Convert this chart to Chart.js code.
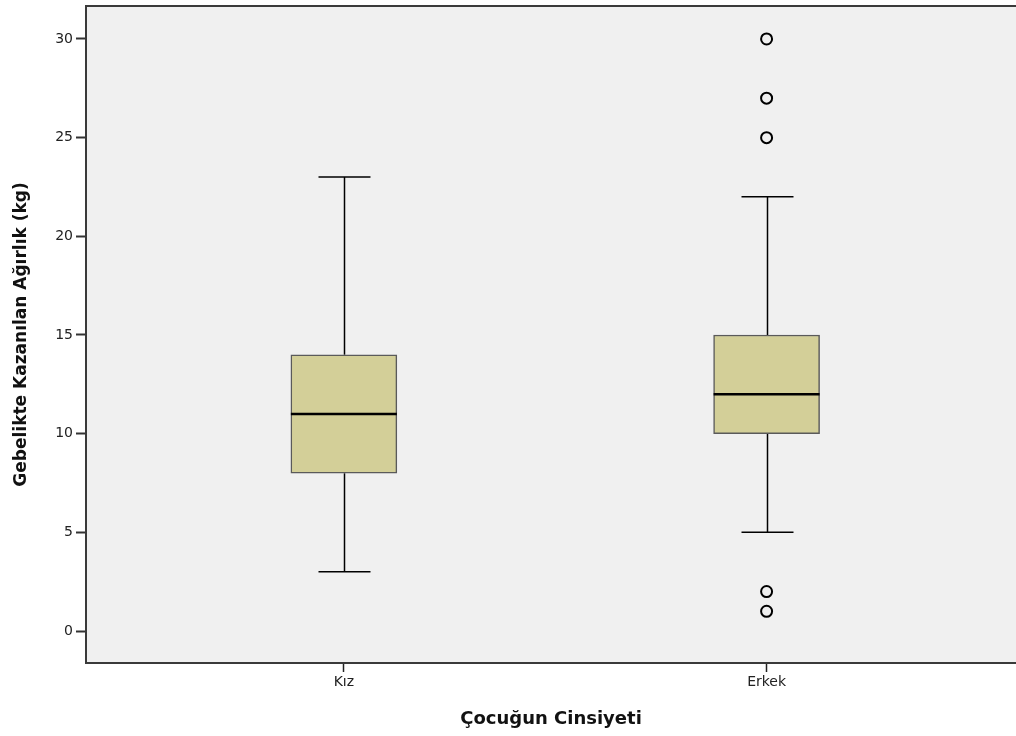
<!DOCTYPE html>
<html>
<head>
<meta charset="utf-8">
<script src="https://cdn.jsdelivr.net/npm/chart.js@4.4.0/dist/chart.umd.min.js"></script>
<style>
  html, body { margin: 0; padding: 0; background: #ffffff; overflow: hidden; }
  #wrap { width: 1016px; height: 736px; position: relative; }
  #box_chart { display: block; }
</style>
</head>
<body>
<div id="wrap"><canvas id="box_chart"></canvas></div>
<script>
// categories and box statistics
const categories = ['Kız', 'Erkek'];
const mins     = [3, 5];
const q1s      = [8, 10];
const medians  = [11, 12];
const q3s      = [14, 15];
const maxs     = [23, 22];
const outliers = [[], [30, 27, 25, 2, 1]];
const yTicks   = [0, 5, 10, 15, 20, 25, 30];

const plotBg = '#f0f0f0';
const boxFill = '#d3cf98';

// background of the plot area and the frame on top
const backgroundPlugin = {
  id: 'plotBackground',
  beforeDraw(chart) {
    const { ctx, chartArea: a } = chart;
    ctx.save();
    ctx.fillStyle = plotBg;
    ctx.fillRect(a.left, a.top, a.right - a.left, a.bottom - a.top);
    ctx.strokeStyle = '#3a3a3a';
    ctx.lineWidth = 2;
    ctx.beginPath();
    ctx.moveTo(a.left - 1, a.top);
    ctx.lineTo(a.right, a.top);
    ctx.stroke();
    ctx.restore();
  }
};

// whiskers, caps and median lines, placed with the chart scales
const whiskerPlugin = {
  id: 'whiskers',
  beforeDatasetsDraw(chart) {
    const { ctx } = chart;
    const xs = chart.scales.x, ys = chart.scales.y;
    ctx.save();
    ctx.strokeStyle = '#000';
    ctx.lineWidth = 1.5;
    categories.forEach(function (c, i) {
      const cx = Math.round(xs.getPixelForValue(i + 1)) + 0.5;
      const half = 26;
      ctx.beginPath();
      ctx.moveTo(cx, ys.getPixelForValue(q3s[i]));
      ctx.lineTo(cx, ys.getPixelForValue(maxs[i]));
      ctx.moveTo(cx, ys.getPixelForValue(q1s[i]));
      ctx.lineTo(cx, ys.getPixelForValue(mins[i]));
      ctx.moveTo(cx - half, ys.getPixelForValue(maxs[i]));
      ctx.lineTo(cx + half, ys.getPixelForValue(maxs[i]));
      ctx.moveTo(cx - half, ys.getPixelForValue(mins[i]));
      ctx.lineTo(cx + half, ys.getPixelForValue(mins[i]));
      ctx.stroke();
    });
    ctx.restore();
  },
  afterDatasetsDraw(chart) {
    const { ctx } = chart;
    const ys = chart.scales.y;
    const meta = chart.getDatasetMeta(0);
    ctx.save();
    ctx.strokeStyle = '#000';
    ctx.lineWidth = 2.5;
    categories.forEach(function (c, i) {
      const bar = meta.data[i];
      const w = bar.width / 2;
      const y = ys.getPixelForValue(medians[i]);
      ctx.beginPath();
      ctx.moveTo(bar.x - w, y);
      ctx.lineTo(bar.x + w, y);
      ctx.stroke();
    });
    ctx.restore();
  }
};

const boxData = categories.map(function (c, i) {
  return { x: i + 1, y: [q1s[i], q3s[i]] };
});
const outlierData = [];
outliers.forEach(function (list, i) {
  list.forEach(function (v) { outlierData.push({ x: i + 1, y: v }); });
});

const tickFont = { family: 'DejaVu Sans', size: 14 };

new Chart(document.getElementById('box_chart'), {
  type: 'bar',
  data: {
    datasets: [
      {
        type: 'bar',
        data: boxData,
        backgroundColor: boxFill,
        borderColor: '#5a5a5a',
        borderWidth: 1.5,
        borderSkipped: false,
        barThickness: 106
      },
      {
        type: 'scatter',
        data: outlierData,
        pointStyle: 'circle',
        pointRadius: 5.5,
        backgroundColor: 'rgba(0,0,0,0)',
        borderColor: '#000',
        borderWidth: 2
      }
    ]
  },
  options: {
    responsive: true,
    maintainAspectRatio: false,
    animation: false,
    layout: { autoPadding: false, padding: { top: 6, right: 0, left: 0, bottom: 0 } },
    plugins: {
      legend: { display: false },
      tooltip: { enabled: false }
    },
    scales: {
      x: {
        type: 'linear',
        offset: false,
        min: 0.39,
        max: 2.59,
        afterBuildTicks: function (scale) {
          scale.ticks = categories.map(function (c, i) { return { value: i + 1 }; });
        },
        afterFit: function (scale) {
          scale.height = 73;
          scale.paddingLeft = 0;
          scale.paddingRight = 0;
        },
        ticks: {
          font: tickFont,
          color: '#222',
          padding: 2,
          maxRotation: 0,
          callback: function (value) { return categories[value - 1]; }
        },
        grid: { offset: false, drawOnChartArea: false, tickLength: 9, color: '#222', tickWidth: 1.5 },
        border: { display: true, color: '#3a3a3a', width: 2 },
        title: {
          display: true, text: 'Çocuğun Cinsiyeti', color: '#111',
          font: { family: 'DejaVu Sans', size: 18, weight: 'bold' },
          padding: { top: 0, bottom: 6 }
        }
      },
      y: {
        type: 'linear',
        min: -1.62,
        max: 31.67,
        afterBuildTicks: function (scale) {
          scale.ticks = yTicks.map(function (v) { return { value: v }; });
        },
        afterFit: function (scale) {
          scale.width = 86;
          scale.paddingTop = 0;
          scale.paddingBottom = 0;
        },
        ticks: { font: tickFont, color: '#222', padding: 3 },
        grid: { drawOnChartArea: false, tickLength: 10, color: '#333', tickWidth: 2 },
        border: { display: true, color: '#3a3a3a', width: 2 },
        title: {
          display: true, text: 'Gebelikte Kazanılan Ağırlık (kg)', color: '#111',
          font: { family: 'DejaVu Sans', size: 17, weight: 'bold' },
          padding: { top: 11, bottom: 0 }
        }
      }
    }
  },
  plugins: [backgroundPlugin, whiskerPlugin]
});
</script>
</body>
</html>
